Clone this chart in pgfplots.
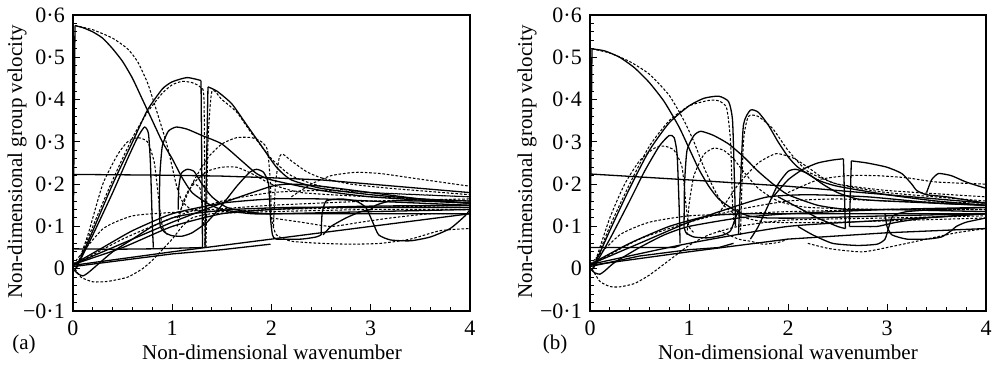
\documentclass[border=0pt]{standalone}
\usepackage{fontspec}
\setmainfont{Liberation Serif}
\usepackage{pgfplots}
\pgfplotsset{compat=1.18}
\pgfplotsset{
  S/.style={black, line width=1.3pt, smooth, tension=0.35},
  L/.style={black, line width=1.3pt},
  D/.style={black, line width=1.05pt, smooth, tension=0.35, dash pattern=on 2.6pt off 1.8pt},
  panel/.style={
    scale only axis, width=397pt, height=296pt,
    xmin=0, xmax=4, ymin=-0.1, ymax=0.6,
    axis line style={line width=1.3pt},
    xtick={0,1,2,3,4}, xticklabels={0,1,2,3,4},
    ytick={-0.1,0,0.1,0.2,0.3,0.4,0.5,0.6},
    yticklabels={−0·1,0,0·1,0·2,0·3,0·4,0·5,0·6},
    minor x tick num=4, minor y tick num=4,
    tick align=inside, xtick pos=bottom, ytick pos=left,
    major tick length=7pt, minor tick length=4pt,
    tick style={black, line width=1pt},
    tick label style={font=\fontsize{22pt}{26pt}\selectfont},
    xticklabel style={yshift=-3pt},
    yticklabel style={xshift=-1pt},
    clip=true,
  }
}
\begin{document}
\fontsize{21pt}{25pt}\selectfont
\begin{tikzpicture}
\useasboundingbox (0,0) rectangle (997pt,371pt);
% ---------------- panel (a) ----------------
\begin{axis}[panel, at={(73pt,60pt)}, anchor=south west]
\addplot[L] coordinates {(0,0)(0.02,0.575)};
\addplot[S] coordinates {(0.02,0.575)(0.1,0.57)(0.2,0.56)(0.3,0.545)(0.4,0.52)(0.5,0.49)(0.6,0.45)(0.7,0.40)(0.8,0.35)(0.9,0.30)(1.0,0.26)(1.1,0.215)(1.2,0.18)(1.35,0.155)(1.5,0.14)(1.8,0.13)(2.2,0.13)(3,0.13)(4,0.13)};
\addplot[D] coordinates {(0.02,0.575)(0.2,0.565)(0.4,0.545)(0.55,0.52)(0.65,0.49)(0.75,0.44)(0.82,0.39)(0.9,0.33)(0.95,0.29)(1.0,0.24)(1.05,0.19)(1.1,0.16)(1.2,0.14)(1.5,0.135)(2,0.14)(3,0.145)(4,0.15)};
\addplot[S] coordinates {(0.03,0.0)(0.2,0.09)(0.4,0.2)(0.6,0.3)(0.75,0.375)(0.9,0.425)(1.0,0.442)(1.15,0.452)(1.29,0.445)};
\addplot[L] coordinates {(1.29,0.445)(1.305,0.05)};
\addplot[D] coordinates {(0.03,0)(0.2,0.1)(0.4,0.21)(0.6,0.31)(0.75,0.37)(0.9,0.415)(1.0,0.435)(1.1,0.443)(1.2,0.44)(1.28,0.43)(1.32,0.4)(1.33,0.05)};
\addplot[L] coordinates {(0,0.047)(0.4,0.046)(0.8,0.047)(1.305,0.05)};
\addplot[L] coordinates {(1.33,0.05)(1.36,0.43)};
\addplot[S] coordinates {(1.36,0.43)(1.45,0.42)(1.6,0.39)(1.75,0.34)(1.9,0.29)(2.05,0.24)(2.2,0.21)(2.5,0.19)(3,0.175)(3.5,0.165)(4,0.16)};
\addplot[D] coordinates {(1.34,0.05)(1.36,0.3)(1.4,0.42)(1.5,0.4)(1.65,0.37)(1.8,0.32)(2.0,0.26)(2.2,0.22)(2.5,0.195)(3,0.18)(4,0.17)};
\addplot[S] coordinates {(0.03,0)(0.2,0.08)(0.4,0.18)(0.55,0.26)(0.65,0.31)(0.72,0.335)(0.76,0.32)(0.78,0.25)(0.8,0.1)(0.81,0.05)};
\addplot[D] coordinates {(0.03,0)(0.15,0.08)(0.3,0.2)(0.45,0.27)(0.55,0.3)(0.65,0.31)(0.75,0.3)(0.82,0.25)(0.87,0.15)(0.9,0.1)(0.95,0.08)};
\addplot[S] coordinates {(0.87,0.14)(0.875,0.22)(0.9,0.29)(0.96,0.325)(1.04,0.335)(1.15,0.33)(1.3,0.315)(1.5,0.295)(1.7,0.255)(1.85,0.225)(2.0,0.21)(2.5,0.185)(3,0.17)(4,0.155)};
\addplot[S] coordinates {(0.87,0.14)(0.88,0.1)(0.93,0.085)(1.0,0.078)(1.1,0.077)(1.2,0.085)(1.35,0.11)(1.5,0.15)(1.65,0.195)(1.78,0.228)(1.85,0.235)(1.92,0.228)(1.97,0.2)(1.99,0.12)(2.01,0.08)(2.05,0.07)(2.3,0.07)(2.45,0.075)(2.5,0.08)};
\addplot[S] coordinates {(1.06,0.14)(1.065,0.19)(1.09,0.225)(1.15,0.235)(1.22,0.23)(1.3,0.2)(1.4,0.17)(1.55,0.145)(1.75,0.135)(2,0.13)(3,0.135)(4,0.14)};
\addplot[S] coordinates {(2.5,0.08)(2.51,0.13)(2.55,0.16)(2.7,0.165)(2.85,0.16)(2.95,0.145)(3.02,0.11)(3.08,0.08)(3.2,0.068)(3.4,0.066)(3.6,0.075)(3.8,0.095)(3.95,0.125)(4,0.14)};
\addplot[S] coordinates {(2.52,0.08)(2.6,0.1)(2.75,0.12)(2.9,0.135)(3.0,0.14)(3.05,0.15)(3.2,0.16)(3.5,0.16)(4,0.155)};
\addplot[L] coordinates {(0,0.223)(1,0.221)(1.5,0.219)(2,0.215)(2.5,0.21)(3,0.2)(3.5,0.19)(4,0.18)};
\addplot[S] coordinates {(0,0.01)(0.5,0.06)(1,0.11)(1.5,0.155)(2,0.195)(2.2,0.2)(2.5,0.195)(3,0.18)(3.5,0.165)(4,0.155)};
\addplot[L] coordinates {(0,0.008)(1,0.04)(2,0.07)(3,0.1)(4,0.13)};
\addplot[L] coordinates {(0,0.005)(0.5,0.02)(1,0.035)(1.5,0.045)(1.99,0.058)};
\addplot[S] coordinates {(0,0.01)(0.3,0.05)(0.6,0.09)(1,0.13)(1.5,0.155)(2,0.165)(2.5,0.165)(3,0.16)(4,0.15)};
\addplot[S] coordinates {(0,0.01)(0.5,0.05)(1.0,0.1)(1.5,0.13)(2,0.14)(2.5,0.145)(3,0.148)(4,0.15)};
\addplot[S] coordinates {(0,0)(0.05,-0.012)(0.1,-0.017)(0.15,-0.01)(0.25,0.01)(0.4,0.04)(0.6,0.07)(0.8,0.1)(1.0,0.12)(1.2,0.13)(1.6,0.14)(2.2,0.145)(3,0.145)(4,0.145)};
\addplot[D] coordinates {(1.05,0.12)(1.2,0.2)(1.35,0.26)(1.5,0.295)(1.65,0.31)(1.8,0.31)(1.9,0.3)(1.96,0.28)(1.99,0.2)(2.0,0.12)(2.05,0.08)(2.2,0.065)(2.5,0.06)(2.8,0.058)(3.1,0.06)(3.4,0.07)(3.7,0.09)(4,0.095)};
\addplot[D] coordinates {(2.02,0.1)(2.04,0.2)(2.08,0.265)(2.12,0.27)(2.2,0.255)(2.35,0.23)(2.5,0.215)(2.8,0.2)(3.2,0.19)(4,0.175)};
\addplot[D] coordinates {(2.2,0.17)(2.4,0.2)(2.6,0.22)(2.85,0.228)(3.1,0.225)(3.4,0.215)(3.7,0.205)(4,0.195)};
\addplot[D] coordinates {(0.02,0)(0.08,-0.02)(0.2,-0.031)(0.35,-0.03)(0.55,-0.02)(0.7,0.0)(0.8,0.02)(0.9,0.045)(1.0,0.07)(1.1,0.1)(1.2,0.12)(1.4,0.13)(2,0.135)(3,0.14)(4,0.14)};
\addplot[D] coordinates {(0,0.01)(0.3,0.094)(0.6,0.125)(1.0,0.133)(1.4,0.14)(2,0.15)(3,0.16)(4,0.165)};
\addplot[D] coordinates {(1.05,0.1)(1.1,0.15)(1.15,0.18)(1.22,0.2)(1.28,0.19)(1.3,0.15)(1.32,0.1)};
\addplot[D] coordinates {(1.2,0.2)(1.35,0.23)(1.5,0.24)(1.65,0.24)(1.8,0.225)(2.0,0.2)(2.3,0.18)(3,0.17)(4,0.16)};
\addplot[D] coordinates {(0.02,0.01)(0.5,0.07)(1,0.12)(1.5,0.16)(2,0.18)(2.5,0.185)(3,0.18)(4,0.17)};
\addplot[D] coordinates {(2.0,0.12)(2.3,0.11)(2.6,0.1)(2.9,0.11)(3.2,0.12)(3.6,0.13)(4,0.13)};
\end{axis}
% ---------------- panel (b) ----------------
\begin{axis}[panel, width=396pt, at={(590pt,60pt)}, anchor=south west]
\addplot[L] coordinates {(0,0)(0.02,0.52)};
\addplot[S] coordinates {(0.02,0.52)(0.15,0.515)(0.3,0.5)(0.45,0.475)(0.6,0.44)(0.75,0.395)(0.9,0.335)(1.0,0.285)(1.1,0.235)(1.2,0.195)(1.3,0.165)(1.45,0.14)(1.6,0.125)(1.8,0.12)(2.2,0.12)(3,0.125)(4,0.13)};
\addplot[D] coordinates {(0.02,0.52)(0.2,0.51)(0.4,0.49)(0.6,0.46)(0.8,0.41)(0.95,0.35)(1.05,0.3)(1.15,0.24)(1.25,0.19)(1.35,0.15)(1.5,0.125)(1.8,0.11)(2.5,0.11)(4,0.12)};
\addplot[S] coordinates {(0.03,0)(0.2,0.09)(0.4,0.19)(0.6,0.28)(0.8,0.345)(1.0,0.385)(1.15,0.403)(1.3,0.408)(1.4,0.395)(1.44,0.35)(1.46,0.2)(1.47,0.1)};
\addplot[D] coordinates {(0.03,0)(0.2,0.1)(0.4,0.2)(0.6,0.29)(0.8,0.35)(1.0,0.385)(1.2,0.398)(1.3,0.397)(1.38,0.38)(1.42,0.3)(1.44,0.15)(1.46,0.1)};
\addplot[S] coordinates {(1.5,0.08)(1.52,0.2)(1.55,0.34)(1.62,0.375)(1.7,0.37)(1.8,0.34)(1.9,0.3)(2.0,0.265)(2.1,0.24)(2.3,0.21)(2.5,0.195)(3,0.175)(3.5,0.16)(4,0.15)};
\addplot[D] coordinates {(1.52,0.08)(1.55,0.3)(1.6,0.36)(1.7,0.36)(1.85,0.33)(2.0,0.28)(2.2,0.23)(2.5,0.2)(3,0.18)(4,0.16)};
\addplot[S] coordinates {(0.03,0)(0.2,0.07)(0.4,0.16)(0.55,0.23)(0.7,0.29)(0.8,0.315)(0.85,0.31)(0.88,0.27)(0.9,0.15)(0.91,0.06)};
\addplot[L] coordinates {(0,0.05)(0.5,0.05)(0.85,0.05)(0.91,0.055)};
\addplot[D] coordinates {(0.03,0)(0.2,0.12)(0.35,0.2)(0.5,0.255)(0.65,0.285)(0.75,0.29)(0.85,0.28)(0.93,0.24)(0.97,0.15)(1.0,0.1)(1.05,0.085)};
\addplot[S] coordinates {(0.95,0.1)(0.955,0.2)(0.98,0.28)(1.05,0.315)(1.12,0.325)(1.25,0.315)(1.4,0.295)(1.55,0.265)(1.7,0.23)(1.85,0.2)(2.0,0.175)(2.3,0.15)(2.6,0.14)(3,0.14)(4,0.135)};
\addplot[S] coordinates {(0.95,0.1)(0.97,0.085)(1.05,0.075)(1.2,0.073)(1.35,0.08)(1.42,0.09)(1.47,0.12)(1.5,0.14)};
\addplot[D] coordinates {(0.98,0.08)(1.0,0.15)(1.05,0.22)(1.15,0.27)(1.25,0.285)(1.35,0.28)(1.45,0.26)(1.55,0.23)(1.7,0.19)(1.9,0.16)(2.2,0.145)(3,0.14)(4,0.14)};
\addplot[D] coordinates {(1.3,0.13)(1.5,0.2)(1.7,0.25)(1.88,0.272)(2.05,0.262)(2.2,0.24)(2.35,0.215)(2.5,0.2)(3,0.185)(4,0.17)};
\addplot[S] coordinates {(1.85,0.17)(2.0,0.21)(2.15,0.235)(2.3,0.25)(2.45,0.257)(2.56,0.26)};
\addplot[L] coordinates {(2.56,0.26)(2.58,0.095)};
\addplot[S] coordinates {(1.9,0.17)(2.1,0.145)(2.3,0.12)(2.5,0.1)(2.58,0.095)};
\addplot[L] coordinates {(2.62,0.1)(2.64,0.255)};
\addplot[S] coordinates {(2.64,0.255)(2.8,0.25)(3.0,0.24)(3.15,0.225)(3.25,0.2)(3.3,0.185)(3.4,0.175)(3.6,0.17)(4,0.155)};
\addplot[S] coordinates {(2.62,0.1)(2.7,0.1)(2.9,0.1)(3.1,0.11)(3.4,0.12)(4,0.13)};
\addplot[S] coordinates {(3.4,0.18)(3.45,0.21)(3.52,0.225)(3.65,0.22)(3.8,0.205)(4,0.19)};
\addplot[S] coordinates {(1.62,0.07)(1.7,0.1)(1.8,0.15)(1.9,0.2)(2.0,0.23)(2.08,0.235)(2.2,0.225)(2.35,0.2)(2.5,0.18)(2.7,0.165)(3,0.16)(4,0.15)};
\addplot[S] coordinates {(2.1,0.1)(2.25,0.08)(2.45,0.06)(2.7,0.055)(2.9,0.058)(2.98,0.07)(3.02,0.1)(3.06,0.125)(3.2,0.135)(3.5,0.14)(4,0.145)};
\addplot[S] coordinates {(2.98,0.13)(3.0,0.1)(3.05,0.08)(3.2,0.07)(3.4,0.07)(3.55,0.075)(3.65,0.09)(3.7,0.1)(3.8,0.11)(4,0.12)};
\addplot[L] coordinates {(0,0.224)(1,0.21)(2,0.195)(3,0.175)(4,0.155)};
\addplot[L] coordinates {(0,0.008)(1,0.04)(2,0.07)(3,0.085)(4,0.095)};
\addplot[S] coordinates {(0,0.01)(1,0.06)(2,0.1)(3,0.115)(4,0.13)};
\addplot[S] coordinates {(0,0.01)(0.5,0.06)(1.0,0.11)(1.5,0.15)(1.8,0.17)(2.2,0.175)(2.8,0.17)(3.5,0.155)(4,0.15)};
\addplot[L] coordinates {(0,0.005)(0.5,0.03)(1.0,0.045)(1.3,0.05)(1.45,0.06)};
\addplot[S] coordinates {(0,0.01)(0.4,0.06)(0.8,0.1)(1.2,0.125)(1.6,0.13)(2,0.13)(3,0.13)(4,0.13)};
\addplot[S] coordinates {(0,0)(0.05,-0.01)(0.1,-0.013)(0.15,-0.005)(0.25,0.015)(0.5,0.05)(0.75,0.08)(1.0,0.1)(1.5,0.12)(2,0.13)(3,0.14)(4,0.145)};
\addplot[D] coordinates {(0.02,0)(0.1,-0.03)(0.2,-0.042)(0.3,-0.043)(0.45,-0.035)(0.6,-0.015)(0.8,0.02)(1.0,0.055)(1.2,0.08)(1.5,0.1)(2,0.115)(3,0.12)(4,0.125)};
\addplot[D] coordinates {(1.3,0.09)(1.5,0.07)(1.62,0.065)(1.75,0.058)(1.9,0.062)(2.0,0.07)};
\addplot[D] coordinates {(2.2,0.06)(2.43,0.047)(2.76,0.04)(3.1,0.055)(3.4,0.07)(3.7,0.085)(4,0.095)};
\addplot[D] coordinates {(0,0.01)(0.3,0.08)(0.6,0.11)(1.0,0.125)(1.5,0.13)(2,0.135)(3,0.14)(4,0.14)};
\addplot[D] coordinates {(2.0,0.18)(2.3,0.21)(2.6,0.22)(2.9,0.22)(3.2,0.215)(3.5,0.205)(4,0.2)};
\addplot[D] coordinates {(0.02,0.01)(0.5,0.07)(1,0.11)(1.5,0.14)(2,0.16)(2.5,0.165)(3,0.16)(4,0.155)};
\end{axis}
% ---------------- labels ----------------
\node[anchor=base] at (272pt,11pt) {Non-dimensional wavenumber};
\node[anchor=base] at (788pt,11pt) {Non-dimensional wavenumber};
\node[anchor=base] at (24pt,21pt) {(a)};
\node[anchor=base] at (555pt,21pt) {(b)};
\node[rotate=90, anchor=center] at (17pt,209pt) {Non-dimensional group velocity};
\node[rotate=90, anchor=center] at (527pt,209pt) {Non-dimensional group velocity};
\end{tikzpicture}
\end{document}
